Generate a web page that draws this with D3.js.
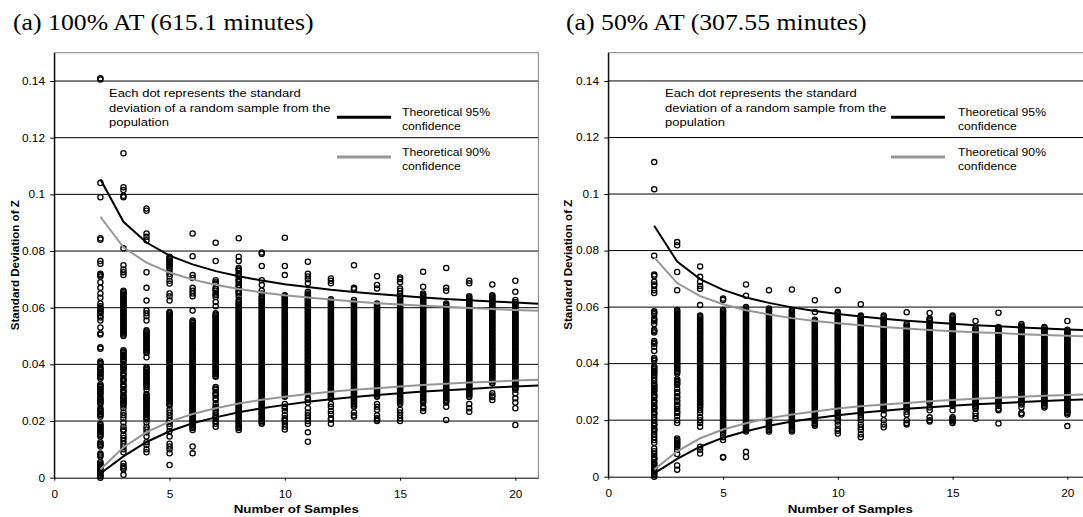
<!DOCTYPE html>
<html lang="en">
<head>
<meta charset="UTF-8">
<title>Standard deviation of Z vs number of samples</title>
<script src="https://d3js.org/d3.v7.min.js"></script>
<style>
  body { margin: 0; background: #fff; }
  svg text { font-family: "Liberation Sans", Arial, sans-serif; fill: #000; }
  .title { font-family: "Liberation Serif", "Times New Roman", serif; font-size: 22.4px; }
  .tick text { font-size: 10.3px; }
  .axis-label { font-size: 11.6px; font-weight: bold; }
  .note { font-size: 11.3px; }
  .legend { font-size: 10.6px; }
</style>
</head>
<body>
<svg id="chart" width="1083" height="517"></svg>
<script>
// x positions of the dot columns
var sampleSizes = [2, 3, 4, 5, 6, 7, 8, 9, 10, 11, 12, 13, 14, 15, 16, 17, 18, 19, 20];
// x positions of the theoretical curves
var curveN = [2, 3, 4, 5, 6, 7, 8, 9, 10, 11, 12, 13, 14, 15, 16, 17, 18, 19, 20, 21];

var yTicks = [0, 0.02, 0.04, 0.06, 0.08, 0.1, 0.12, 0.14];
var xTicks = [0, 5, 10, 15, 20];

var titles = ["(a) 100% AT (615.1 minutes)", "(a) 50% AT (307.55 minutes)"];
var noteLines = ["Each dot represents the standard", "deviation of a random sample from the", "population"];
var legendLabels = [["Theoretical 95%", "confidence"], ["Theoretical 90%", "confidence"]];

// dots, std. dev. of Z in thousandths, one string per sample size (100% AT)
var dots100 = [
  "141 140.5 104 99 84.5 84 76.5 75.5 72 71.5 71 69 67 65 63.5 61.5 60.5 60 59.5 59 58.5 58 57 56.5 55.5 53 51 50.5 46 45.5 41 40.5 40 39 38.5 38 37.5 37 36.5 36 35.5 35 33 32.5 32 31.5 31 30.5 30 29.5 28.5 28 27.5 27 26.5 26 24.5 24 23.5 23 22.5 22 21.5 19 18.5 18 17.5 17 16.5 16 15.5 15 14.5 12.5 12 11.5 11 8.5 8 7.5 5.5 5 4.5 4 3.5 3 2.5 2 1.5 1 0.5 0",
  "114.5 102.5 101.5 99.5 99 81 75 73.5 72.5 71.5 66 65.5 65 64.5 64 63.5 63 62.5 62 61.5 61 60.5 60 59.5 59 58.5 58 57.5 57 56.5 56 55.5 55 54.5 54 53.5 53 52.5 52 51.5 51 50.5 50 45 44.5 44 43.5 43 42.5 42 41.5 41 40 39.5 39 38.5 38 37 36.5 36 35 34.5 34 33 32.5 32 31 30.5 30 29 28.5 28 27.5 27 26.5 26 25.5 24.5 23 22 21 19.5 18 17 16.5 15 14 13 12 11 10 9 5 4 3.5 3 1",
  "95 94.2 86.2 85 83.8 72.5 67 62.5 59 58 57 55.5 52 51.5 51 50.5 50 49.5 49 48.5 48 47.5 47 46.5 46 45.5 45 44.5 44 42.5 39 38.5 38 37.5 37 36.5 36 35.5 35 34.5 34 33.5 33 32.5 32 31 29.5 29 28.5 28 27.5 27 26.5 26 25.5 25 24.5 24 23.5 23 22.5 22 21.5 21 20.5 19.5 18 17 16 14.5 12.5 11.5 10 9",
  "78 77.4 77 76.5 76 75.5 75 74.5 74 73 72 71 69.5 68.5 65 64 62.5 58.5 58 57.5 57 56.5 56 55.5 55 54.5 54 53.5 53 52.5 52 51.5 51 50.5 50 49.5 49 48.5 48 47.5 47 46.5 46 45.5 45 44.5 44 43.5 43 42.5 42 41.5 41 40.5 40 39.5 39 38.5 38 37.5 37 36.5 36 35.5 35 34.5 34 33.5 33 32.5 32 31.5 31 30.5 30 29.5 29 28.5 28 27.5 27 26.5 26 25.5 24 23 22 21 20 19 18 16.5 14.5 12 11 10 8.6 4.5",
  "86.2 78.2 71.5 70.5 67 66 65 64 59 55.5 55 54.5 54 53.5 53 52.5 52 51.5 51 50.5 50 49.5 49 48.5 48 47.5 47 46.5 46 45.5 45 44.5 44 43.5 43 42.5 42 41.5 41 40.5 40 39.5 39 38.5 38 37.5 37 36.5 36 35.5 35 34.5 34 33.5 33 32.5 32 31.5 31 30.5 30 29.5 29 28.5 28 27.5 27 26.5 26 25.5 25 24.5 24 23.5 23 22.5 22 21.5 21 20.5 20 19.5 19 18.5 18 17.5 16.8 11 8.6",
  "82.9 76.5 69.7 69 68.5 67 66.5 66 65 64.5 63.8 62 60.5 58 57.5 57 56.5 56 55.5 55 54.5 54 53.5 53 52.5 52 51.5 51 50.5 50 49.5 49 48.5 48 47.5 47 46.5 46 45.5 45 44.5 44 43.5 43 42.5 42 41.5 41 40.5 40 39.5 39 38.5 38 37.5 37 36.5 36 35.6 32 31.5 31 30 29.5 29 28 27.4 26 25 24.5 24 23 22 21.5 21 20 19 18",
  "84.5 78 76.5 74 73.5 73 72 71.5 71 70 69.5 69 68 67.5 67 66 65.5 65 64 62.7 62 61.5 61 60.5 60 59.5 59 58.5 58 57.5 57 56.5 56 55.5 55 54.5 54 53.5 53 52.5 52 51.5 51 50.5 50 49.5 49 48.5 48 47.5 47 46.5 46 45.5 45 44.5 44 43.5 43 42.5 42 41.5 41 40.5 40 39.5 39 38.5 38 37.5 37 36.5 36 35.5 35 34.5 34 33.5 33 32.5 32 31.5 31 30.5 30 29.5 29 28.5 28 27.5 27 26.5 26 25.5 25 24.5 24 23.5 23 22.5 22 21.5 21 20.5 20 19.5 19 18.5 18 17.5 16.8",
  "79.5 79 74.7 69.7 68 66 65 64 63.5 63 62.5 62 61.5 61 60.5 60 59.5 59 58.5 58 57.5 57 56.5 56 55.5 55 54.5 54 53.5 53 52.5 52 51.5 51 50.5 50 49.5 49 48.5 48 47.5 47 46.5 46 45.5 45 44.5 44 43.5 43 42.5 42 41.5 41 40.5 40 39.5 39 38.5 38 37.5 37 36.5 36 35.5 35 34.5 34 33.5 33 32.5 32 31.5 31 30.5 30 29.5 29 28.5 28 27.5 27 26.5 26 25.5 25 24.5 24 23.5 23 22.5 22 21.5 21 20.5 20 19.5 19",
  "84.7 74.7 71.5 64.4 64 63.5 63 62.5 62 61.5 61 60.5 60 59.5 59 58.5 58 57.5 57 56.5 56 55.5 55 54.5 54 53.5 53 52.5 52 51.5 51 50.5 50 49.5 49 48.5 48 47.5 47 46.5 46 45.5 45 44.5 44 43.5 43 42.5 42 41.5 41 40.5 40 39.5 39 38.5 38 37.5 37 36.5 36 35.5 35 34.5 34 33.5 33 32.5 32 31.5 31 30.5 30 29.5 29 28.6 26 25 24.5 23.5 22 21 20.5 20 19 18 17",
  "76.2 72 71 70 68.6 65.6 65 64.5 64 63.5 63 62.5 62 61.5 61 60.5 60 59.5 59 58.5 58 57.5 57 56.5 56 55.5 55 54.5 54 53.5 53 52.5 52 51.5 51 50.5 50 49.5 49 48.5 48 47.5 47 46.5 46 45.5 45 44.5 44 43.5 43 42.5 42 41.5 41 40.5 40 39.5 39 38.5 38 37.5 37 36.5 36 35.5 35 34.5 34 33.5 33 32.5 32 31.5 31 30.5 30 29.8 28 27.5 26.5 24.5 23 22 21 20 19 16 12.7",
  "70.3 69.5 68.6 63 62.5 62 61.5 61 60.5 60 59.5 59 58.5 58 57.5 57 56.5 56 55.5 55 54.5 54 53.5 53 52.5 52 51.5 51 50.5 50 49.5 49 48.5 48 47.5 47 46.5 46 45.5 45 44.5 44 43.5 43 42.5 42 41.5 41 40.5 40 39.5 39 38.5 38 37.5 37 36.5 36 35.5 35 34.5 34 33.5 33 32.5 32 31.5 31 30.5 30 29.5 29 28.5 28 26 25 23.5 22.5 21 20.5 19",
  "75 67 66.5 62.7 62 61.5 61 60.5 60 59.5 59 58.5 58 57.5 57 56.5 56 55.5 55 54.5 54 53.5 53 52.5 52 51.5 51 50.5 50 49.5 49 48.5 48 47.5 47 46.5 46 45.5 45 44.5 44 43.5 43 42.5 42 41.5 41 40.5 40 39.5 39 38.5 38 37.5 37 36.5 36 35.5 35 34.5 34 33.5 33 32.5 32 31.5 31 30.5 30 29.5 29 28.5 28 27.5 27 26.5 26 25.5 25 23 22 21.5",
  "71.1 68 66.8 61.5 61 60.5 60 59.5 59 58.5 58 57.5 57 56.5 56 55.5 55 54.5 54 53.5 53 52.5 52 51.5 51 50.5 50 49.5 49 48.5 48 47.5 47 46.5 46 45.5 45 44.5 44 43.5 43 42.5 42 41.5 41 40.5 40 39.5 39 38.5 38 37.5 37 36.5 36 35.5 35 34.5 34 33.5 33 32.5 32 31.5 31 30.5 30 29.5 29 28.6 26 25 24 22 21 20.5 20",
  "70.7 70 69 66.8 66 65 64 63.5 63 62.5 62 61.5 61 60.5 60 59.5 59 58.5 58 57.5 57 56.5 56 55.5 55 54.5 54 53.5 53 52.5 52 51.5 51 50.5 50 49.5 49 48.5 48 47.5 47 46.5 46 45.5 45 44.5 44 43.5 43 42.5 42 41.5 41 40.5 40 39.5 39 38.5 38 37.5 37 36.5 36 35.5 35 34.5 34 33.5 33 32.5 32 31.5 31 30.5 30 29.5 29 28.5 28 27.5 27 26.5 26 24 23 22 21 20",
  "72.7 67.4 65 64.5 64 63.5 63 62.5 62 61.5 61 60.5 60 59.5 59 58.5 58 57.5 57 56.5 56 55.5 55 54.5 54 53.5 53 52.5 52 51.5 51 50.5 50 49.5 49 48.5 48 47.5 47 46.5 46 45.5 45 44.5 44 43.5 43 42.5 42 41.5 41 40.5 40 39.5 39 38.5 38 37.5 37 36.5 36 35.5 35 34.5 34 33.5 33 32.5 32 31.5 31 30.5 30 29.5 29 28.5 28 27.5 27 26.5 25 24.5 23.5",
  "74 67 66 61.5 61 60.5 60 59.5 59 58.5 58 57.5 57 56.5 56 55.5 55 54.5 54 53.5 53 52.5 52 51.5 51 50.5 50 49.5 49 48.5 48 47.5 47 46.5 46 45.5 45 44.5 44 43.5 43 42.5 42 41.5 41 40.5 40 39.5 39 38.5 38 37.5 37 36.5 36 35.5 35 34.5 34 33.5 33 32.5 32 31.5 31 30.5 30 29.5 29 28.5 28 27.5 27 26.5 25 20.4",
  "69.5 68.6 64 63.5 63 62.5 62 61.5 61 60.5 60 59.5 59 58.5 58 57.5 57 56.5 56 55.5 55 54.5 54 53.5 53 52.5 52 51.5 51 50.5 50 49.5 49 48.5 48 47.5 47 46.5 46 45.5 45 44.5 44 43.5 43 42.5 42 41.5 41 40.5 40 39.5 39 38.5 38 37.5 37 36.5 36 35.5 35 34.5 34 33.5 33 32.5 32 31.5 31 30.5 30 29.5 29 28.5 26 24.5 23.3",
  "68.2 64.4 64 63.5 63 62.5 62 61.5 61 60.5 60 59.5 59 58.5 58 57.5 57 56.5 56 55.5 55 54.5 54 53.5 53 52.5 52 51.5 51 50.5 50 49.5 49 48.5 48 47.5 47 46.5 46 45.5 45 44.5 44 43.5 43 42.5 42 41.5 41 40.5 40 39.5 39 38.5 38 37.5 37 36.5 36 35.5 35 34.5 34 33.5 33.3 29.8 29 28.5 27.4",
  "69.5 65.6 62.7 62 61.5 61 60.5 60 59.5 59 58.5 58 57.5 57 56.5 56 55.5 55 54.5 54 53.5 53 52.5 52 51.5 51 50.5 50 49.5 49 48.5 48 47.5 47 46.5 46 45.5 45 44.5 44 43.5 43 42.5 42 41.5 41 40.5 40 39.5 39 38.5 38 37.5 37 36.5 36 35.5 35 34.5 34 33.5 33 32.5 32 31.5 31 29.8 28 26.5 24.5 18.6"
];

// same for 50% AT
var dots50 = [
  "111.3 101.7 78.2 71.5 71 69 68 67.5 66 65 58.5 58 57.5 56 55.5 55 54 52 51.5 51 48 47.5 47 46 44.5 42 41.5 41 39 38.5 38 37.5 37 36.5 36 35 34 33 32.5 32 31.5 31 30.5 30 29 28.5 28 27 26.5 26 25 24.5 24 23 22.5 22 21 20 19 18.5 18 17 16.5 16 15 14 13 12 10 9 8 7 6.5 6 5 4.5 4 3.5 3 2.5 2 1.5 1 0.5 0",
  "83 81.9 72.4 66 59 58.5 58 57.5 57 56.5 56 55.5 55 54.5 54 53.5 53 52.5 52 51.5 51 50.5 50 49.5 49 48.5 48 47.5 47 46.5 46 45.5 45 44.5 44 43.5 43 42.5 42 41.5 41 40.5 40 39.5 39 38.5 38 37.5 37 36.5 34.5 34 33.5 33 32.5 31 30 29.5 28.5 28 27 26.5 25.5 25 24 23 22.5 21.5 20 19 13.5 13 12.5 12 11.5 11 10.5 9.5 8 4 2.5",
  "74.4 70.7 69 67.5 66.5 60.7 57 56.5 56 55.5 55 54.5 54 53.5 53 52.5 52 51.5 51 50.5 50 49.5 49 48.5 48 47.5 47 46.5 46 45.5 45 44.5 44 43.5 43 42.5 42 41.5 41 40.5 40 39.5 39 38.5 38 37.5 37 36.5 36 35.5 35 34.5 34 33.5 33 32.5 32 31.5 31 30.5 30 29.5 29 28.5 28 27.5 27 26.5 26 25.5 25 24.5 23.5 22.5 21 20 19 17.7 10.6 9.5 8.2",
  "63 62.5 59 58.5 58 57.5 57 56.5 56 55.5 55 54.5 54 53.5 53 52.5 52 51.5 51 50.5 50 49.5 49 48.5 48 47.5 47 46.5 46 45.5 45 44.5 44 43.5 43 42.5 42 41.5 41 40.5 40 39.5 39 38.5 38 37.5 37 36.5 36 35.5 35 34.5 34 33.5 33 32.5 32 31.5 31 30.5 30 29.5 29 28.5 28 27.5 27 26.5 26 25.5 25 24.5 24 23.5 23 22.5 22 21.5 21 20.5 20 19.5 19 18.5 18 17.5 17 16.5 16 15.3 14 13 7 6.8",
  "68 64 60 59.5 59 58.5 58 57.5 57 56.5 56 55.5 55 54.5 54 53.5 53 52.5 52 51.5 51 50.5 50 49.5 49 48.5 48 47.5 47 46.5 46 45.5 45 44.5 44 43.5 43 42.5 42 41.5 41 40.5 40 39.5 39 38.5 38 37.5 37 36.5 36 35.5 35 34.5 34 33.5 33 32.5 32 31.5 31 30.5 30 29.5 29 28.5 28 27.5 27 26.5 26 25.5 25 24.5 24 23.5 23 22.5 22 21.5 21 20.5 20 19.5 19 18.5 18 17.5 17 16.5 16 8.8 7",
  "66 59.5 59 58.5 58 57.5 57 56.5 56 55.5 55 54.5 54 53.5 53 52.5 52 51.5 51 50.5 50 49.5 49 48.5 48 47.5 47 46.5 46 45.5 45 44.5 44 43.5 43 42.5 42 41.5 41 40.5 40 39.5 39 38.5 38 37.5 37 36.5 36 35.5 35 34.5 34 33.5 33 32.5 32 31.5 31 30.5 30 29.5 29 28.5 28 27.5 27 26.5 26 25.5 25 24.5 24 23.5 23 22.5 22 21.5 21 20.5 20 19.5 19 18.5 18 17.5 17 16.5 16",
  "66.2 59 58.5 58 57.5 57 56.5 56 55.5 55 54.5 54 53.5 53 52.5 52 51.5 51 50.5 50 49.5 49 48.5 48 47.5 47 46.5 46 45.5 45 44.5 44 43.5 43 42.5 42 41.5 41 40.5 40 39.5 39 38.5 38 37.5 37 36.5 36 35.5 35 34.5 34 33.5 33 32.5 32 31.5 31 30.5 30 29.5 29 28.5 28 27.5 27 26.5 26 25.5 25 24.5 24 23.5 23 22.5 22 21.5 21 20.5 20 19.5 19 18.5 18 17.5 17 16.5 16",
  "62.4 58.3 55.5 55 54.5 54 53.5 53 52.5 52 51.5 51 50.5 50 49.5 49 48.5 48 47.5 47 46.5 46 45.5 45 44.5 44 43.5 43 42.5 42 41.5 41 40.5 40 39.5 39 38.5 38 37.5 37 36.5 36 35.5 35 34.5 34 33.5 33 32.5 32 31.5 31 30.5 30 29.5 29 28.5 28 27.5 27 26.5 26 25.5 25 24.5 24 23.5 23 22.5 22 21.5 21 20.5 20 19.5 19 18.5 18",
  "66 58.3 58 57.5 57 56.5 56 55.5 55 54.5 54 53.5 53 52.5 52 51.5 51 50.5 50 49.5 49 48.5 48 47.5 47 46.5 46 45.5 45 44.5 44 43.5 43 42.5 42 41.5 41 40.5 40 39.5 39 38.5 38 37.5 37 36.5 36 35.5 35 34.5 34 33.5 33 32.5 32 31.5 31 30.5 30 29.5 29 28.5 28 27.5 27 26.5 26 25.5 25 24.5 24 23.5 23 22.5 22 21.5 21 20 19.5 18.5 17 16.3 15.3",
  "61 57 56.5 56 55.5 55 54.5 54 53.5 53 52.5 52 51.5 51 50.5 50 49.5 49 48.5 48 47.5 47 46.5 46 45.5 45 44.5 44 43.5 43 42.5 42 41.5 41 40.5 40 39.5 39 38.5 38 37.5 37 36.5 36 35.5 35 34.5 34 33.5 33 32.5 32 31.5 31 30.5 30 29.5 29 28.5 28 27.5 27 26.5 26 25.5 25 24.5 24 23.5 23 22.5 22 21 20 18.5 17.5 16.5 15 14",
  "57 56.5 56 55.5 55 54.5 54 53.5 53 52.5 52 51.5 51 50.5 50 49.5 49 48.5 48 47.5 47 46.5 46 45.5 45 44.5 44 43.5 43 42.5 42 41.5 41 40.5 40 39.5 39 38.5 38 37.5 37 36.5 36 35.5 35 34.5 34 33.5 33 32.5 32 31.5 31 30.5 30 29.5 29 28.5 28 27.5 27 26.5 26 25.5 25 24.5 24 23.5 22 20 18.5 17.5",
  "58.2 54 53.5 53 52.5 52 51.5 51 50.5 50 49.5 49 48.5 48 47.5 47 46.5 46 45.5 45 44.5 44 43.5 43 42.5 42 41.5 41 40.5 40 39.5 39 38.5 38 37.5 37 36.5 36 35.5 35 34.5 34 33.5 33 32.5 32 31.5 31 30.5 30 29.5 29 28.5 28 27.5 27 26.5 26 25.5 25 24.5 24 23 22 20 19 18.5",
  "57.9 56 55.5 55 54.5 54 53.5 53 52.5 52 51.5 51 50.5 50 49.5 49 48.5 48 47.5 47 46.5 46 45.5 45 44.5 44 43.5 43 42.5 42 41.5 41 40.5 40 39.5 39 38.5 38 37.5 37 36.5 36 35.5 35 34.5 34 33.5 33 32.5 32 31.5 31 30.5 30 29.5 29 28.5 28 27.5 27 26.5 26 24.5 23.5 21 20 19.5",
  "57 56.5 56 55.5 55 54.5 54 53.5 53 52.5 52 51.5 51 50.5 50 49.5 49 48.5 48 47.5 47 46.5 46 45.5 45 44.5 44 43.5 43 42.5 42 41.5 41 40.5 40 39.5 39 38.5 38 37.5 37 36.5 36 35.5 35 34.5 34 33.5 33 32.5 32 31.5 31 30.5 30 29.5 29 28.5 28 27.5 27 26.5 26 25.5 25 23.5 21 20.5 20 19.5 19",
  "55.1 52.5 52 51.5 51 50.5 50 49.5 49 48.5 48 47.5 47 46.5 46 45.5 45 44.5 44 43.5 43 42.5 42 41.5 41 40.5 40 39.5 39 38.5 38 37.5 37 36.5 36 35.5 35 34.5 34 33.5 33 32.5 32 31.5 31 30.5 30 29.5 29 28.5 28 27.5 27 26.5 26 25.5 25 24.5 24 22.5 21.5 20.5",
  "58 53 52.5 52 51.5 51 50.5 50 49.5 49 48.5 48 47.5 47 46.5 46 45.5 45 44.5 44 43.5 43 42.5 42 41.5 41 40.5 40 39.5 39 38.5 38 37.5 37 36.5 36 35.5 35 34.5 34 33.5 33 32.5 32 31.5 31 30.5 30 29.5 29 28.5 28 27.5 27 26.5 26 25 24 23.5 18.8",
  "54 53.5 53 52.5 52 51.5 51 50.5 50 49.5 49 48.5 48 47.5 47 46.5 46 45.5 45 44.5 44 43.5 43 42.5 42 41.5 41 40.5 40 39.5 39 38.5 38 37.5 37 36.5 36 35.5 35 34.5 34 33.5 33 32.5 32 31.5 31 30.5 30 29.5 29 28.5 28 27.5 27 26.5 26 25.5 24.5 22.5 22",
  "53 52.5 52 51.5 51 50.5 50 49.5 49 48.5 48 47.5 47 46.5 46 45.5 45 44.5 44 43.5 43 42.5 42 41.5 41 40.5 40 39.5 39 38.5 38 37.5 37 36.5 36 35.5 35 34.5 34 33.5 33 32.5 32 31.5 31 30.5 30 29.5 29 28.5 28 27.5 27 26.5 26 25.5 25 24.5",
  "55.1 52 51.5 51 50.5 50 49.5 49 48.5 48 47.5 47 46.5 46 45.5 45 44.5 44 43.5 43 42.5 42 41.5 41 40.5 40 39.5 39 38.5 38 37.5 37 36.5 36 35.5 35 34.5 34 33.5 33 32.5 32 31.5 31 30.5 30 29.5 29 28.5 28 27.5 27 26.5 26 25.5 25 24.5 24 23.5 23 22.5 22 17.9"
];

// theoretical confidence bounds
var upper95_100 = [0.1053, 0.0903, 0.0830, 0.0784, 0.0753, 0.0729, 0.0711, 0.0696, 0.0683, 0.0673, 0.0663, 0.0655, 0.0648, 0.0642, 0.0636, 0.0631, 0.0626, 0.0622, 0.0618, 0.0614];
var lower95_100 = [0.0015, 0.0075, 0.0126, 0.0164, 0.0192, 0.0213, 0.0231, 0.0245, 0.0257, 0.0268, 0.0277, 0.0285, 0.0292, 0.0298, 0.0304, 0.0309, 0.0313, 0.0318, 0.0322, 0.0325];
var upper90_100 = [0.0921, 0.0813, 0.0759, 0.0724, 0.0699, 0.0681, 0.0666, 0.0654, 0.0644, 0.0636, 0.0629, 0.0622, 0.0616, 0.0611, 0.0607, 0.0603, 0.0599, 0.0595, 0.0592, 0.0589];
var lower90_100 = [0.0029, 0.0107, 0.0161, 0.0198, 0.0225, 0.0245, 0.0262, 0.0275, 0.0286, 0.0295, 0.0303, 0.0310, 0.0316, 0.0322, 0.0327, 0.0332, 0.0336, 0.0339, 0.0343, 0.0346];

var upper95_50 = [0.0888, 0.0761, 0.0699, 0.0661, 0.0634, 0.0615, 0.0599, 0.0586, 0.0576, 0.0567, 0.0559, 0.0552, 0.0546, 0.0541, 0.0536, 0.0532, 0.0528, 0.0524, 0.0521, 0.0518];
var lower95_50 = [0.0012, 0.0063, 0.0106, 0.0138, 0.0161, 0.0180, 0.0195, 0.0207, 0.0217, 0.0226, 0.0233, 0.0240, 0.0246, 0.0251, 0.0256, 0.0260, 0.0264, 0.0268, 0.0271, 0.0274];
var upper90_50 = [0.0776, 0.0685, 0.0639, 0.0610, 0.0589, 0.0574, 0.0561, 0.0551, 0.0543, 0.0536, 0.0530, 0.0524, 0.0519, 0.0515, 0.0511, 0.0508, 0.0504, 0.0501, 0.0499, 0.0496];
var lower90_50 = [0.0025, 0.0090, 0.0136, 0.0167, 0.0189, 0.0207, 0.0220, 0.0231, 0.0241, 0.0249, 0.0255, 0.0261, 0.0267, 0.0271, 0.0276, 0.0279, 0.0283, 0.0286, 0.0289, 0.0292];

var svg = d3.select("#chart");
var SX = 1.15;   // text in the original is drawn a little wide
var black = "#000", gray = "#969696";

function parseDots(cols) {
  var out = [];
  cols.forEach(function (s, i) {
    s.trim().split(/\s+/).forEach(function (v) {
      out.push({ n: sampleSizes[i], v: +v / 1000 });
    });
  });
  return out;
}

function wideText(g, x, y, str, cls, anchor) {
  return g.append("text")
    .attr("class", cls)
    .attr("transform", "translate(" + x + "," + y + ") scale(" + SX + ",1)")
    .attr("text-anchor", anchor || "start")
    .text(str);
}

var panels = [
  { title: titles[0], titleX: 13, x0: 54.3, x1: 538.4, y0: 477.7, y1: 52.7,
    dots: dots100, curves: [[upper95_100, black], [lower95_100, black], [upper90_100, gray], [lower90_100, gray]],
    noteX: 109, legLineX: 337, legTextX: 402, yLabelX: 15 },
  { title: titles[1], titleX: 566, x0: 608.3, x1: 1090.3, y0: 476.7, y1: 52.7,
    dots: dots50, curves: [[upper95_50, black], [lower95_50, black], [upper90_50, gray], [lower90_50, gray]],
    noteX: 665, legLineX: 891, legTextX: 958, yLabelX: 568 }
];

panels.forEach(function (p, k) {
  var x = d3.scaleLinear().domain([0, 21]).range([p.x0, p.x1]);
  var y = d3.scaleLinear().domain([0, 0.15]).range([p.y0, p.y1]);
  var g = svg.append("g");

  g.append("clipPath").attr("id", "clip" + k)
    .append("rect").attr("x", p.x0).attr("y", p.y1).attr("width", p.x1 - p.x0).attr("height", p.y0 - p.y1);

  // horizontal gridlines
  g.selectAll(".grid").data(yTicks.slice(1)).join("line")
    .attr("class", "grid")
    .attr("x1", p.x0).attr("x2", p.x1)
    .attr("y1", function (d) { return y(d); })
    .attr("y2", function (d) { return y(d); })
    .attr("stroke", "#000").attr("stroke-width", 1);

  // frame, top and right
  g.append("path")
    .attr("d", "M" + p.x0 + "," + p.y1 + "H" + p.x1 + "V" + p.y0)
    .attr("fill", "none").attr("stroke", "#808080").attr("stroke-width", 1);

  // the dots
  g.selectAll(".dot").data(parseDots(p.dots)).join("circle")
    .attr("class", "dot")
    .attr("cx", function (d) { return x(d.n); })
    .attr("cy", function (d) { return y(d.v); })
    .attr("r", 2.6)
    .attr("fill", "none")
    .attr("stroke", "#000")
    .attr("stroke-width", 1.3);

  // confidence curves
  var line = d3.line()
    .x(function (d, i) { return x(curveN[i]); })
    .y(function (d) { return y(d); });
  p.curves.forEach(function (c) {
    g.append("path")
      .attr("d", line(c[0]))
      .attr("clip-path", "url(#clip" + k + ")")
      .attr("fill", "none")
      .attr("stroke", c[1])
      .attr("stroke-width", 2);
  });

  // axes
  var yAxis = g.append("g")
    .attr("transform", "translate(" + p.x0 + ",0)")
    .call(d3.axisLeft(y).tickValues(yTicks).tickSize(4).tickSizeOuter(0)
      .tickFormat(function (d) { return String(d); }));
  yAxis.selectAll("text")
    .attr("x", -9.3 / SX)
    .attr("transform", "scale(" + SX + ",1)")
    .attr("font-family", null).attr("font-size", null);

  var xAxis = g.append("g")
    .attr("transform", "translate(0," + p.y0 + ")")
    .call(d3.axisBottom(x).tickValues(xTicks).tickSize(3).tickPadding(10).tickSizeOuter(0));
  xAxis.selectAll("text")
    .attr("x", 0)
    .attr("transform", "scale(" + SX + ",1)")
    .attr("font-family", null).attr("font-size", null);
  g.selectAll(".domain").attr("stroke", "#000");
  g.selectAll(".tick line").attr("stroke", "#000");

  // y axis extends to the top of the frame
  g.append("line")
    .attr("x1", p.x0).attr("x2", p.x0).attr("y1", p.y1).attr("y2", p.y0)
    .attr("stroke", "#000");

  // titles and labels
  wideText(svg, p.titleX, 30, p.title, "title");
  wideText(svg, (p.x0 + p.x0 + 484) / 2, 513, "Number of Samples", "axis-label", "middle");
  svg.append("text")
    .attr("class", "axis-label")
    .attr("transform", "translate(" + (p.yLabelX + 4) + "," + (p.y1 + p.y0) / 2 + ") rotate(-90)")
    .attr("text-anchor", "middle")
    .text("Standard Deviation of Z");

  // note
  noteLines.forEach(function (t, i) {
    wideText(svg, p.noteX, 97 + i * 14.5, t, "note");
  });

  // legend
  [[black, 117.2], [gray, 157]].forEach(function (l, i) {
    svg.append("line")
      .attr("x1", p.legLineX).attr("x2", p.legLineX + 54)
      .attr("y1", l[1]).attr("y2", l[1])
      .attr("stroke", l[0]).attr("stroke-width", 3);
    wideText(svg, p.legTextX, l[1] - 1.5, legendLabels[i][0], "legend");
    wideText(svg, p.legTextX, l[1] + 13, legendLabels[i][1], "legend");
  });
});
</script>
</body>
</html>
